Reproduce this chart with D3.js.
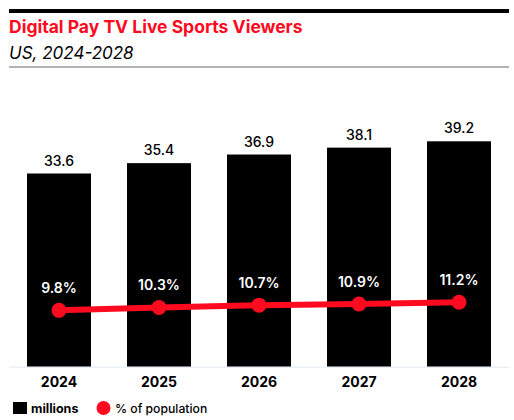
<!DOCTYPE html>
<html><head><meta charset="utf-8">
<script src="https://cdn.jsdelivr.net/npm/d3@7"></script>
<style>body{margin:0;background:#fff}svg{display:block;font-family:Inter,"Noto Sans",sans-serif}</style>
</head><body>
<script>
const years = ["2024","2025","2026","2027","2028"];
const millions = [33.6, 35.4, 36.9, 38.1, 39.2];
const pctPop = [9.8, 10.3, 10.7, 10.9, 11.2];
const title = "Digital Pay TV Live Sports Viewers";
const subtitle = "US, 2024-2028";
const legendLabels = ["millions", "% of population"];

const W = 514, H = 420;
const RED = "#ff0a1e";
const svg = d3.select("body").append("svg").attr("width", W).attr("height", H);

svg.append("rect").attr("x", 9).attr("y", 9).attr("width", 500).attr("height", 4).attr("fill", "#000");
svg.append("text").attr("x", 9).attr("y", 33).attr("fill", RED).attr("font-size", 17.5).attr("font-weight", 700).text(title);
svg.append("text").attr("x", 9).attr("y", 59).attr("fill", "#000").attr("font-size", 17).attr("font-style", "italic").text(subtitle);
svg.append("rect").attr("x", 9).attr("y", 66).attr("width", 500).attr("height", 2).attr("fill", "#b3b3b3");

const x = d3.scaleBand().domain(years).range([9, 509]).paddingInner(0.36).paddingOuter(0.18);
const y = d3.scaleLinear().domain([0, 40]).range([366.7, 136.7]);
const yp = d3.scaleLinear().domain([0, 40]).range([366.7, 136.7]);

svg.append("g").selectAll("rect").data(years).join("rect")
  .attr("x", d => x(d)).attr("width", x.bandwidth())
  .attr("y", (d, i) => y(millions[i])).attr("height", (d, i) => y(0) - y(millions[i]))
  .attr("fill", "#000");

svg.append("line").attr("x1", 9).attr("x2", 509).attr("y1", 367.2).attr("y2", 367.2).attr("stroke", "#e3e6ee").attr("stroke-width", 1);

svg.append("g").selectAll("text").data(years).join("text")
  .attr("x", d => x(d) + x.bandwidth() / 2).attr("y", (d, i) => y(millions[i]) - 8)
  .attr("text-anchor", "middle").attr("font-size", 14).attr("font-weight", 500).attr("fill", "#000")
  .text((d, i) => millions[i].toFixed(1));

const cx = d => x(d) + x.bandwidth() / 2;
const line = d3.line().x((d, i) => cx(years[i])).y(d => yp(d));
svg.append("path").datum(pctPop).attr("d", line).attr("fill", "none").attr("stroke", RED).attr("stroke-width", 6);
svg.append("g").selectAll("circle").data(pctPop).join("circle")
  .attr("cx", (d, i) => cx(years[i])).attr("cy", d => yp(d)).attr("r", 7.5).attr("fill", RED);
svg.append("g").selectAll("text").data(pctPop).join("text")
  .attr("x", (d, i) => cx(years[i])).attr("y", d => yp(d) - 17)
  .attr("text-anchor", "middle").attr("font-size", 14).attr("font-weight", 600).attr("fill", "#fff")
  .text(d => d.toFixed(1) + "%");

svg.append("g").selectAll("text").data(years).join("text")
  .attr("x", d => cx(d)).attr("y", 387)
  .attr("text-anchor", "middle").attr("font-size", 14).attr("font-weight", 700).attr("fill", "#000")
  .text(d => d);

const lg = svg.append("g");
lg.append("rect").attr("x", 13).attr("y", 402).attr("width", 14).attr("height", 12).attr("fill", "#000");
lg.append("text").attr("x", 31).attr("y", 412.5).attr("font-size", 12.5).attr("font-weight", 700).text(legendLabels[0]);
lg.append("circle").attr("cx", 103.5).attr("cy", 408).attr("r", 7).attr("fill", RED);
lg.append("text").attr("x", 115).attr("y", 412.5).attr("font-size", 12.2).attr("font-weight", 500).text(legendLabels[1]);
</script>
</body></html>
